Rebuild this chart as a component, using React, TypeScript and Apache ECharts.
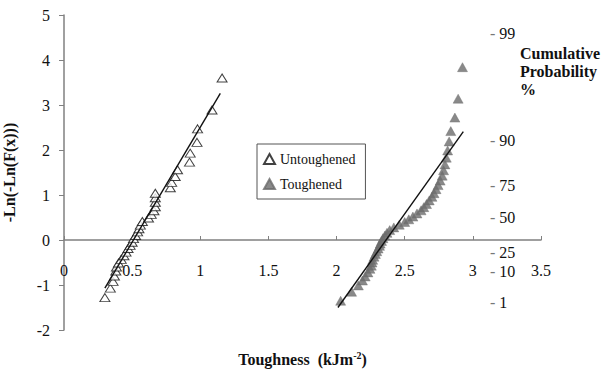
import React, { useEffect, useRef } from "react";
import * as echarts from "echarts";

const untoughenedX = [0.30, 0.34, 0.36, 0.37, 0.38, 0.385, 0.40, 0.42, 0.44, 0.455, 0.47, 0.485, 0.50, 0.51, 0.525, 0.54, 0.55, 0.56, 0.575, 0.62, 0.64, 0.66, 0.67, 0.67, 0.67, 0.67, 0.78, 0.79, 0.816, 0.833, 0.921, 0.926, 0.976, 0.98, 1.086, 1.16];
const untoughenedY = [-1.28, -1.07, -0.92, -0.80, -0.69, -0.60, -0.51, -0.43, -0.35, -0.27, -0.19, -0.12, -0.05, 0.03, 0.10, 0.18, 0.25, 0.33, 0.41, 0.49, 0.57, 0.65, 0.74, 0.84, 0.94, 1.04, 1.16, 1.28, 1.41, 1.56, 1.73, 1.93, 2.17, 2.47, 2.89, 3.60];

const toughenedX = [2.03, 2.11, 2.16, 2.19, 2.21, 2.23, 2.245, 2.255, 2.26, 2.265, 2.275, 2.285, 2.295, 2.305, 2.315, 2.32, 2.33, 2.34, 2.355, 2.37, 2.39, 2.42, 2.46, 2.50, 2.53, 2.56, 2.59, 2.62, 2.64, 2.66, 2.68, 2.70, 2.715, 2.73, 2.745, 2.76, 2.775, 2.785, 2.795, 2.805, 2.815, 2.826, 2.838, 2.868, 2.892, 2.924];
const toughenedY = [-1.35, -1.15, -1.01, -0.90, -0.81, -0.72, -0.64, -0.57, -0.50, -0.44, -0.37, -0.31, -0.25, -0.19, -0.13, -0.08, -0.02, 0.04, 0.10, 0.16, 0.22, 0.28, 0.34, 0.40, 0.46, 0.52, 0.59, 0.66, 0.73, 0.80, 0.88, 0.96, 1.04, 1.13, 1.22, 1.32, 1.43, 1.55, 1.68, 1.83, 1.99, 2.19, 2.42, 2.72, 3.14, 3.84];

const untFitX = [0.30, 1.147];
const untFitY = [-1.07, 3.26];
const touFitX = [2.01, 2.93];
const touFitY = [-1.50, 2.41];

const probTickValues = [-1.38, -0.69, -0.27, 0.49, 1.22, 2.22, 4.6];
const probTickLabels = ["1", "10", "25", "50", "75", "90", "99"];

const FONT = "'Liberation Serif', 'Times New Roman', serif";

const zip = (xs: number[], ys: number[]) => xs.map((x, i) => [x, ys[i]]);

export default function App() {
  const ref = useRef<HTMLDivElement>(null);
  useEffect(() => {
    if (!ref.current) return;
    const chart = echarts.init(ref.current, undefined, { renderer: "svg" });
    const axisGray = "#808080";
    chart.setOption({
      animation: false,
      backgroundColor: "#fff",
      textStyle: { fontFamily: FONT },
      grid: { left: 64, top: 15, width: 477, height: 315, outerBoundsMode: "none", containLabel: false },
      legend: {
        data: ["Untoughened", "Toughened"],
        orient: "vertical",
        left: 257,
        top: 144,
        width: 106,
        borderColor: "#555",
        borderWidth: 1,
        padding: [8, 10, 8, 6],
        itemGap: 11,
        itemWidth: 11,
        itemHeight: 10,
        textStyle: { fontFamily: FONT, fontSize: 14, color: "#111" },
      },
      xAxis: {
        type: "value",
        min: 0,
        max: 3.5,
        interval: 0.5,
        position: "bottom",
        offset: -90,
        name: "Toughness  (kJm{sup|-2})",
        nameLocation: "middle",
        nameGap: 110,
        nameTextStyle: {
          fontFamily: FONT,
          fontSize: 16,
          fontWeight: "bold",
          color: "#111",
          rich: {
            sup: { fontFamily: FONT, fontSize: 10, fontWeight: "bold", color: "#111", verticalAlign: "top", padding: [0, 0, 8, 0] },
          },
        },
        axisLine: { onZero: false, lineStyle: { color: axisGray, width: 1.5 } },
        axisTick: { show: true, inside: true, length: 4, lineStyle: { color: axisGray } },
        axisLabel: { margin: 22, fontFamily: FONT, fontSize: 16, color: "#111" },
        splitLine: { show: false },
      },
      yAxis: [
        {
          type: "value",
          min: -2,
          max: 5,
          interval: 1,
          name: "-Ln(-Ln(F(x)))",
          nameLocation: "middle",
          nameGap: 47,
          nameTextStyle: { fontFamily: FONT, fontSize: 16, fontWeight: "bold", color: "#111" },
          axisLine: { show: true, onZero: false, lineStyle: { color: axisGray, width: 1.5 } },
          axisTick: { show: true, length: 5, lineStyle: { color: axisGray } },
          axisLabel: { margin: 14, fontFamily: FONT, fontSize: 16, color: "#111" },
          splitLine: { show: false },
        },
        {
          type: "value",
          min: -2,
          max: 5,
          position: "right",
          offset: -52,
          axisLine: { show: false },
          axisTick: { show: false },
          axisLabel: {
            margin: 1,
            customValues: probTickValues,
            fontFamily: FONT,
            fontSize: 16,
            color: "#111",
            rich: { d: { fontFamily: FONT, fontSize: 16, color: "#777" } },
            formatter: (v: number) => {
              let best = 0;
              probTickValues.forEach((t, i) => {
                if (Math.abs(t - v) < Math.abs(probTickValues[best] - v)) best = i;
              });
              return "{d|-} " + probTickLabels[best];
            },
          },
          splitLine: { show: false },
        },
      ],
      graphic: [
        {
          type: "text",
          left: 565 - 45,
          top: 44,
          style: {
            text: "Cumulative\nProbability\n%",
            x: 45,
            width: 90,
            align: "center",
            fontFamily: FONT,
            fontSize: 16,
            fontWeight: "bold",
            fill: "#111",
            lineHeight: 18,
          },
        },
      ],
      series: [
        {
          name: "Untoughened",
          type: "scatter",
          symbol: "triangle",
          symbolSize: [10, 8],
          data: zip(untoughenedX, untoughenedY),
          itemStyle: { color: "#fff", borderColor: "#111", borderWidth: 1 },
        },
        {
          name: "Untoughened fit",
          type: "line",
          data: zip(untFitX, untFitY),
          showSymbol: false,
          symbol: "none",
          lineStyle: { color: "#111", width: 1.4 },
        },
        {
          name: "Toughened fit",
          type: "line",
          data: zip(touFitX, touFitY),
          showSymbol: false,
          symbol: "none",
          lineStyle: { color: "#111", width: 1.4 },
        },
        {
          name: "Toughened",
          type: "scatter",
          symbol: "triangle",
          symbolSize: [10, 9],
          data: zip(toughenedX, toughenedY),
          itemStyle: { color: "#6c6c6c", borderColor: "#6c6c6c", borderWidth: 0.5 },
        },
      ],
    });
    return () => chart.dispose();
  }, []);
  return <div ref={ref} style={{ position: "fixed", left: 0, top: 0, width: 607, height: 372 }} />;
}
